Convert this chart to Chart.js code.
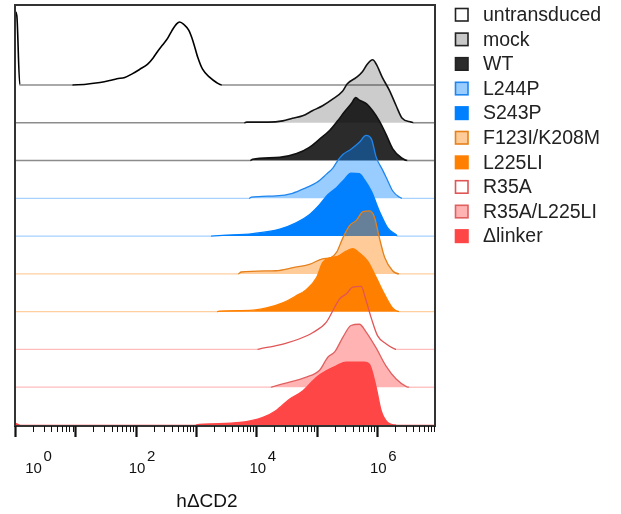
<!DOCTYPE html>
<html>
<head>
<meta charset="utf-8">
<script src="https://cdn.jsdelivr.net/npm/chart.js@4.4.1/dist/chart.umd.min.js"></script>
<style>
  body { margin: 0; background: #fff; }
  canvas { display: block; }
</style>
</head>
<body>
<canvas id="myChart" width="621" height="514"></canvas>
<script>
// histograms: [log10(hΔCD2), % of mode]
var untransduced = [[0, 117], [0.03, 110], [0.08, 0], [0.95, 0], [1.41, 4], [1.57, 7], [1.69, 10], [1.82, 12], [1.95, 18], [2.07, 25], [2.20, 33], [2.29, 43], [2.37, 54], [2.45, 64], [2.53, 74], [2.60, 86], [2.68, 97], [2.73, 100], [2.80, 96], [2.88, 87], [2.95, 70], [3.03, 44], [3.11, 25], [3.23, 12], [3.34, 4], [3.43, 0], [6.97, 0]];
var mock = [[0, 0], [3.80, 0], [3.84, 1], [4.20, 1], [4.44, 3], [4.60, 7], [4.77, 11], [4.93, 19], [5.10, 27], [5.26, 37], [5.43, 50], [5.51, 62], [5.66, 72], [5.76, 81], [5.84, 93], [5.93, 100], [5.99, 93], [6.09, 72], [6.21, 51], [6.32, 27], [6.42, 7], [6.57, 1], [6.61, 0], [6.97, 0]];
var wt = [[0, 0], [3.90, 0], [3.94, 2], [4.39, 5], [4.67, 11], [4.88, 21], [5.05, 34], [5.22, 48], [5.35, 63], [5.46, 77], [5.58, 91], [5.65, 100], [5.71, 96], [5.83, 90], [5.93, 79], [6.04, 63], [6.16, 40], [6.26, 19], [6.41, 4], [6.51, 0], [6.97, 0]];
var l244p = [[0, 0], [3.88, 0], [3.92, 2], [4.33, 4], [4.60, 8], [4.83, 17], [5.00, 25], [5.16, 38], [5.27, 48], [5.35, 60], [5.44, 70], [5.57, 78], [5.71, 89], [5.82, 100], [5.91, 94], [5.99, 65], [6.10, 44], [6.18, 28], [6.26, 12], [6.37, 2], [6.42, 0], [6.97, 0]];
var s243p = [[0, 0], [3.25, 0], [3.44, 1], [3.95, 4], [4.39, 11], [4.66, 21], [4.88, 34], [5.05, 50], [5.19, 66], [5.33, 77], [5.46, 90], [5.57, 100], [5.71, 99], [5.79, 90], [5.91, 71], [6.04, 40], [6.18, 13], [6.32, 2], [6.34, 0], [6.97, 0]];
var f123i = [[0, 0], [3.70, 0], [3.75, 3], [4.33, 5], [4.61, 10], [4.88, 15], [5.10, 24], [5.24, 26], [5.33, 34], [5.44, 58], [5.55, 77], [5.66, 85], [5.77, 99], [5.88, 100], [5.96, 90], [6.04, 58], [6.13, 26], [6.26, 5], [6.37, 0], [6.97, 0]];
var l225li = [[0, 0], [3.35, 0], [3.39, 1], [3.89, 2], [4.17, 6], [4.44, 14], [4.66, 25], [4.83, 35], [5.00, 54], [5.10, 78], [5.24, 86], [5.35, 88], [5.49, 96], [5.60, 100], [5.71, 93], [5.85, 80], [5.99, 54], [6.13, 27], [6.26, 6], [6.37, 0], [6.97, 0]];
var r35a = [[0, 0], [4.02, 0], [4.06, 1], [4.28, 5], [4.50, 10], [4.72, 17], [4.94, 27], [5.16, 43], [5.30, 67], [5.38, 80], [5.49, 88], [5.60, 99], [5.74, 100], [5.82, 78], [5.91, 49], [6.01, 22], [6.15, 9], [6.29, 1], [6.32, 0], [6.97, 0]];
var r35aL225li = [[0, 0], [4.24, 0], [4.28, 1], [4.55, 8], [4.83, 16], [5.05, 27], [5.19, 48], [5.30, 56], [5.44, 80], [5.57, 98], [5.71, 100], [5.82, 88], [5.99, 62], [6.15, 34], [6.32, 13], [6.49, 1], [6.54, 0], [6.97, 0]];
var deltaLinker = [[0, 3], [0.08, 0], [3.00, 0], [3.06, 1], [3.73, 4], [4.11, 12], [4.33, 23], [4.55, 41], [4.77, 54], [5.00, 76], [5.16, 86], [5.33, 94], [5.49, 100], [5.79, 100], [5.88, 96], [5.99, 59], [6.07, 23], [6.18, 4], [6.32, 0], [6.97, 0]];

var labels = ['untransduced', 'mock', 'WT', 'L244P', 'S243P', 'F123I/K208M', 'L225LI', 'R35A', 'R35A/L225LI', '\u0394linker'];
var curves = [untransduced, mock, wt, l244p, s243p, f123i, l225li, r35a, r35aL225li, deltaLinker];
var fills = [null, 'rgba(0,0,0,0.2)', 'rgba(0,0,0,0.83)', 'rgba(0,128,255,0.4)', '#0080ff', 'rgba(255,128,0,0.4)', '#ff8000', null, 'rgba(255,64,64,0.4)', '#ff4646'];
var lines = ['#000000', '#111111', '#111111', '#1f86ee', '#0080ff', '#e5801a', '#ff8000', '#e05555', '#e06060', '#ff4646'];
var baseLines = ['#8c8c8c', '#8c8c8c', '#8c8c8c', '#a6d2ff', '#a6d2ff', '#ffcf9f', '#ffcf9f', '#ffbcbc', '#ffbcbc', '#ffbcbc'];
var legendFills = ['#ffffff', '#c8c8c8', '#2b2b2b', '#99ccff', '#0080ff', '#ffcc99', '#ff8000', '#ffffff', '#ffb3b3', '#ff4646'];

var decades = [0, 1, 2, 3, 4, 5, 6];
var labelDecades = [0, 2, 4, 6];
var rowStep = 60;   // % of mode between stacked baselines
var xMin = 1, xMax = 9.2e6, yMax = 667;

function baselineColor(base, color) {
    return function(s) {
        if (s.p0.parsed.y == base && s.p1.parsed.y == base) return color;
        return undefined;
    };
}

var datasets = [];
for (var i = 0; i < curves.length; i++) {
    var base = (curves.length - 1 - i) * rowStep;
    var pts = curves[i].map(function(p) {
        return { x: Math.pow(10, p[0]), y: base + p[1] };
    });
    datasets.push({
        label: labels[i],
        data: pts,
        borderColor: lines[i],
        borderWidth: i < 3 ? 1.6 : 1.3,
        backgroundColor: fills[i] || 'rgba(0,0,0,0)',
        fill: fills[i] ? { value: base } : false,
        cubicInterpolationMode: 'monotone',
        pointRadius: 0,
        segment: { borderColor: baselineColor(base, baseLines[i]) },
        order: curves.length - 1 - i
    });
}

var font = '"Liberation Sans", Arial, sans-serif';

var decorPlugin = {
    id: 'decor',
    afterDraw: function(chart) {
        var c = chart.ctx;
        var a = chart.chartArea;
        var sx = chart.scales.x;
        c.save();

        // frame
        c.strokeStyle = '#333';
        c.lineWidth = 2;
        c.strokeRect(a.left, a.top, a.right - a.left, a.bottom - a.top + 1);

        // log ticks
        c.strokeStyle = '#111';
        var y0 = a.bottom + 1;
        decades.forEach(function(d) {
            for (var m = 1; m <= 9; m++) {
                var v = m * Math.pow(10, d);
                if (v > xMax) break;
                var px = Math.round(sx.getPixelForValue(v)) + 0.5;
                c.beginPath();
                c.lineWidth = m == 1 ? 2.2 : 1;
                c.moveTo(px, y0);
                c.lineTo(px, y0 + (m == 1 ? 11 : 6));
                c.stroke();
            }
        });

        // tick labels 10^n
        c.fillStyle = '#111';
        c.font = '15px ' + font;
        c.textBaseline = 'alphabetic';
        labelDecades.forEach(function(d) {
            var px = Math.max(sx.getPixelForValue(Math.pow(10, d)) + 1.5, a.left + 18.5);
            c.textAlign = 'center';
            c.fillText('10', px, 473);
            c.textAlign = 'left';
            c.fillText(String(d), px + 10, 461);
        });

        // axis title
        c.font = '19px ' + font;
        c.textAlign = 'center';
        c.fillText('h\u0394CD2', (a.left + a.right) / 2 - 18, 507);

        // legend
        c.font = '19.5px ' + font;
        c.textAlign = 'left';
        for (var i = 0; i < labels.length; i++) {
            var top = a.top + 3.5 + i * 24.6;
            var bx = a.right + 20.5;
            c.fillStyle = legendFills[i];
            c.fillRect(bx, top, 12.5, 12.5);
            c.lineWidth = 1.6;
            c.strokeStyle = i < 3 ? '#222' : lines[i];
            c.strokeRect(bx, top, 12.5, 12.5);
            c.fillStyle = '#222';
            c.fillText(labels[i], a.right + 48, top + 12.5);
        }
        c.restore();
    }
};

var ctx = document.getElementById('myChart');
var myChart = new Chart(ctx, {
    type: 'line',
    data: { datasets: datasets },
    options: {
        responsive: false,
        animation: false,
        layout: { padding: { left: 15, top: 5, right: 186, bottom: 89 } },
        scales: {
            x: { type: 'logarithmic', min: xMin, max: xMax, display: false },
            y: { type: 'linear', min: 0, max: yMax, display: false }
        },
        plugins: {
            legend: { display: false },
            tooltip: { enabled: false }
        }
    },
    plugins: [decorPlugin]
});
</script>
</body>
</html>
